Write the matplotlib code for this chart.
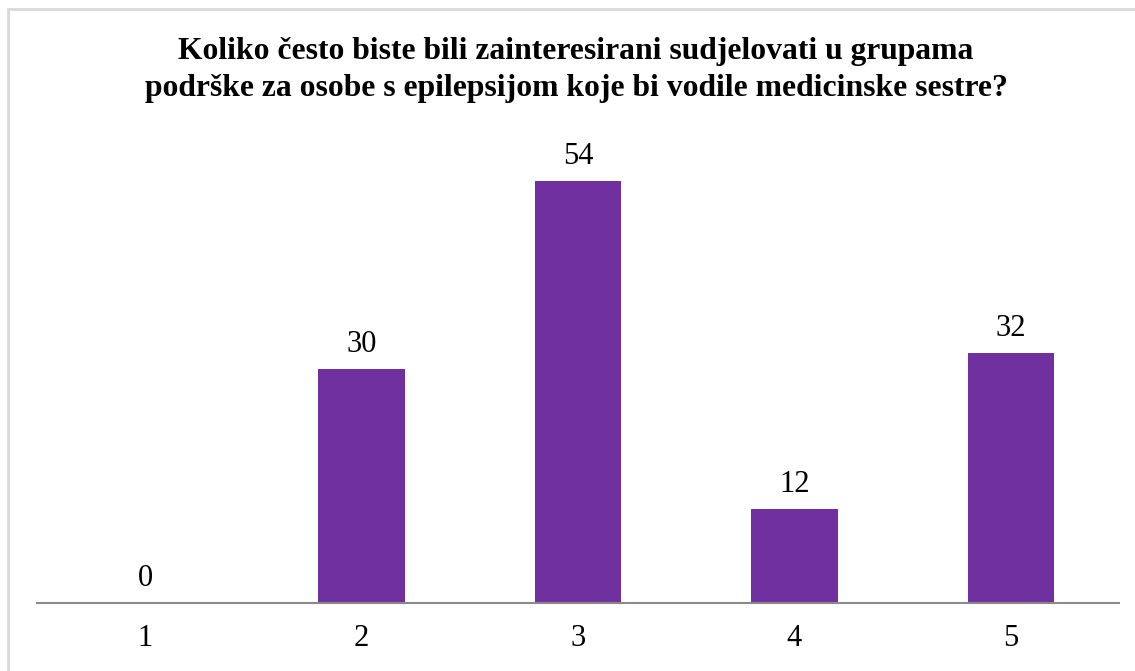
import matplotlib
matplotlib.use("Agg")
import matplotlib.pyplot as plt
from matplotlib.patches import Rectangle

categories = ["1", "2", "3", "4", "5"]
counts = [0, 30, 54, 12, 32]
title = ("Koliko često biste bili zainteresirani sudjelovati u grupama\n"
         "podrške za osobe s epilepsijom koje bi vodile medicinske sestre?")

W, H = 1135, 671
fig = plt.figure(figsize=(W / 100, H / 100), dpi=100)
plt.rcParams['font.family'] = ['Liberation Serif', 'DejaVu Serif']

# outer chart frame (runs off the right and bottom edges)
fig.patches.append(Rectangle((8 / W, -0.1), 1.2, 1 - 9 / H + 0.1,
                             transform=fig.transFigure, fill=False,
                             edgecolor='#d9d9d9', linewidth=2))

left, right = 37 / W, 1119 / W
bottom, top = 1 - 603 / H, 1 - 140 / H
ax = fig.add_axes([left, bottom, right - left, top - bottom])

x = list(range(1, len(categories) + 1))
bars = ax.bar(x, counts, width=0.4, color='#7030a0')
ax.set_xlim(0.5, 5.5)
ax.set_ylim(0, 463 / 7.815)

for b, v in zip(bars, counts):
    ax.annotate(str(v), (b.get_x() + b.get_width() / 2, v),
                xytext=(0, 7), textcoords='offset points',
                ha='center', va='bottom', fontsize=22)

ax.set_xticks(x)
ax.set_xticklabels(categories, fontsize=22)
ax.tick_params(axis='x', length=0, pad=15)
ax.set_yticks([])
for s in ['top', 'right', 'left']:
    ax.spines[s].set_visible(False)
ax.spines['bottom'].set_color('#898989')
ax.spines['bottom'].set_linewidth(1.5)

fig.text(576 / W, 1 - 70 / H, title, ha='center', va='center',
         fontsize=22.8, fontweight='bold', linespacing=1.32)

fig.savefig("out.png", dpi=100)
